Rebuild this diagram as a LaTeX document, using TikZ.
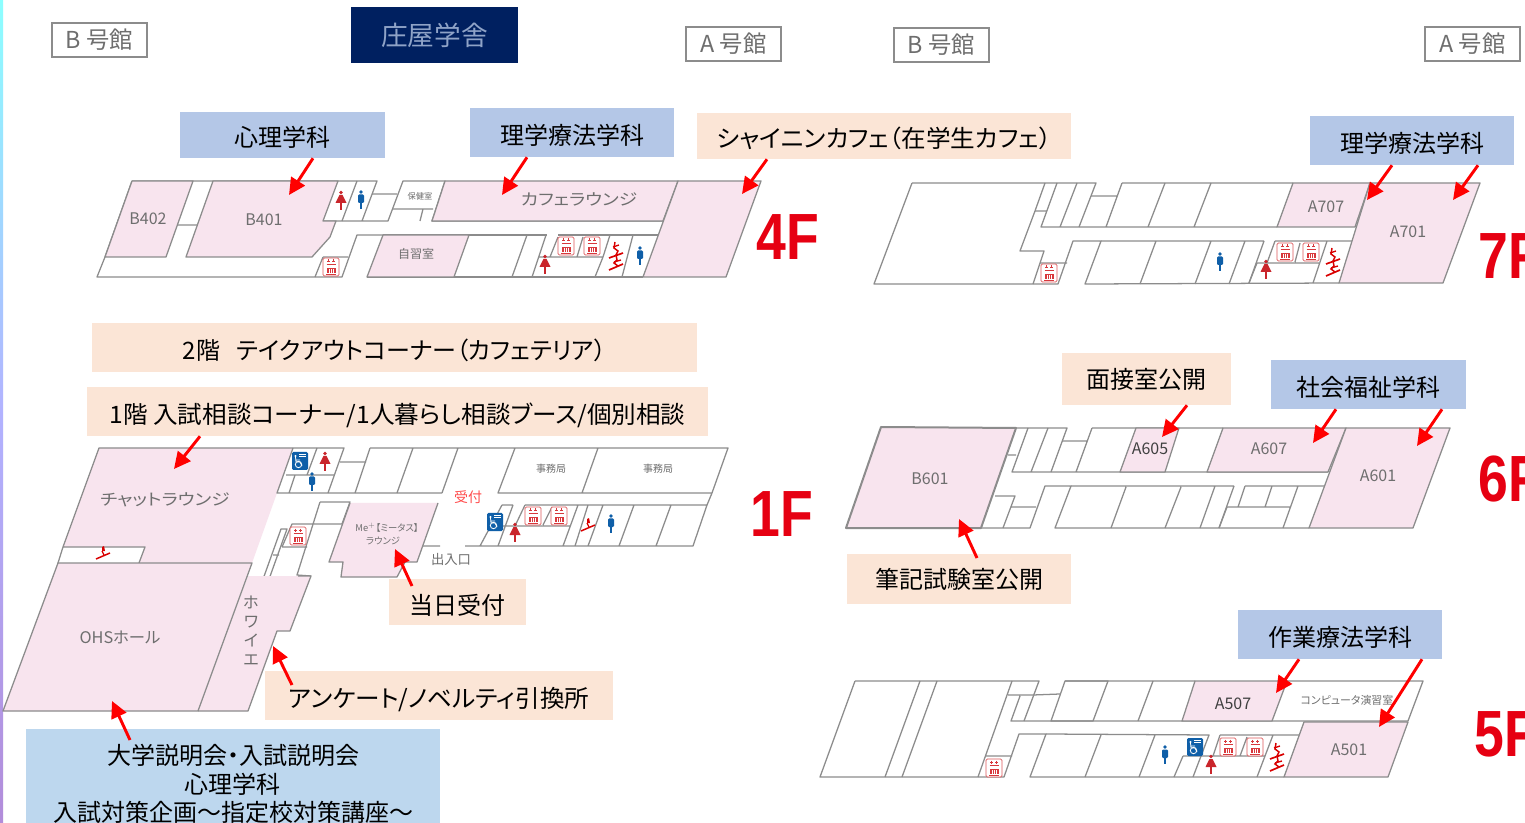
\documentclass[tikz,border=0pt]{standalone}
\usepackage{fontspec}
\usepackage{graphicx}
\setmainfont[RawFeature={+palt}]{Noto Sans CJK JP}
\newfontfamily\bigf[Scale=1]{Liberation Sans}
\usetikzlibrary{arrows.meta}
\definecolor{wall}{HTML}{8C8C8C}
\definecolor{pinkroom}{HTML}{F8E4EE}
\definecolor{roomtext}{HTML}{6E6E6E}
\definecolor{bluelab}{HTML}{B4C7E7}
\definecolor{skylab}{HTML}{BDD7EE}
\definecolor{peachlab}{HTML}{FBE5D6}
\definecolor{navy}{HTML}{002060}
\definecolor{navytext}{HTML}{8FA3C7}
\definecolor{bigred}{HTML}{E60012}
\definecolor{arrowred}{HTML}{FF0000}
\definecolor{iconred}{HTML}{C9252B}
\definecolor{iconblue}{HTML}{0F5FA8}
\definecolor{liftred}{HTML}{D8383C}
\tikzset{
  wl/.style={draw=wall,line width=.95pt,line join=round},
  pk/.style={fill=pinkroom,draw=wall,line width=.95pt,line join=round},
  lab/.style={inner sep=0pt,text=black,font=\fontsize{18}{20}\selectfont,minimum height=#1*.75pt,text height=18pt,text depth=0pt},
  labmid/.style={text height=13.6pt,text depth=0pt},
  bw/.style={minimum width=#1*.75pt},
  bluebox/.style={lab=#1,fill=bluelab},
  peachbox/.style={lab=#1,fill=peachlab},
  bldg/.style={inner sep=0pt,draw=wall,line width=.95pt,fill=white,text=roomtext,font=\fontsize{17.5}{20}\selectfont,minimum width=71.25pt,minimum height=25.5pt},
  rm/.style={inner sep=0pt,text=roomtext,font=\fontsize{12}{13}\selectfont},
  rmsmall/.style={inner sep=0pt,text=roomtext,font=\fontsize{6.2}{8}\selectfont},
  rmdark/.style={inner sep=0pt,text=black!75,font=\fontsize{12}{13}\selectfont},
  fl/.style={inner sep=0pt,text=bigred,font=\bigf\bfseries\fontsize{49}{50}\selectfont,anchor=west},
  arr/.style={draw=arrowred,line width=2.2pt,-{Triangle[length=12.5pt,width=12pt,fill=arrowred]}}
}
\newcommand{\kana}[1]{\scalebox{1.17}[1]{#1}}
\newcommand{\wid}[1]{\scalebox{1.025}[1]{#1}}
\newcommand{\flr}[1]{\scalebox{.82}[1]{#1}}
\newcommand{\iconman}[2]{\begin{scope}[shift={(#1,#2)}]
  \fill[iconblue] (0,-8) circle (1.9);
  \fill[iconblue,rounded corners=.8pt] (-3,-5.5) rectangle (3,3);
  \draw[iconblue,line width=.9pt] (0,3) -- (0,9);
\end{scope}}
\newcommand{\iconwoman}[2]{\begin{scope}[shift={(#1,#2)}]
  \fill[iconred] (0,-8.5) circle (1.9);
  \fill[iconred] (-1.6,-6) -- (1.6,-6) -- (5.5,2) -- (-5.5,2) -- cycle;
  \draw[iconred,line width=.9pt] (0,2) -- (0,9);
\end{scope}}
\newcommand{\iconlift}[2]{\begin{scope}[shift={(#1,#2)}]
  \draw[liftred!85,line width=.6pt,rounded corners=1pt,fill=white] (-8,-9) rectangle (8,9);
  \draw[liftred,line width=.55pt] (-4.5,-3) -- (4.5,-3) (-4,-6) -- (-1,-6) (1,-6) -- (4,-6) (-2.5,-7.5) -- (-2.5,-4.5) (2.5,-7.5) -- (2.5,-4.5);
  \fill[liftred] (-4.5,1) rectangle (4.5,6);
  \draw[white,line width=.3pt] (-2.2,2) -- (-2.2,6) (0,2) -- (0,6) (2.2,2) -- (2.2,6);
  \draw[liftred,line width=.5pt] (-5,7) -- (5,7);
\end{scope}}
\newcommand{\iconesc}[2]{\begin{scope}[shift={(#1,#2)}]
  \draw[arrowred!85!black,line width=1.25pt] (-7,14) -- (7,8) (-7,2) -- (7,-3);
  \draw[arrowred!85!black,line width=1.1pt] (-1,-14) -- (-2,-8) -- (2,-5) -- (0,-1) -- (1,4) -- (-2,7) -- (2,10);
  \draw[arrowred!85!black,line width=1pt] (-3,-9) -- (3,-11) (-2,6) -- (5,4);
\end{scope}}
\newcommand{\iconescs}[2]{\begin{scope}[shift={(#1,#2)}]
  \draw[arrowred!85!black,line width=1.1pt] (-7,6) -- (7,0);
  \fill[arrowred!85!black] (-1,-2) -- (-1,-6) -- (1,-7) -- (2,-2) -- cycle;
  \draw[arrowred!85!black,line width=.9pt] (-1,-2) -- (1,2);
\end{scope}}
\newcommand{\iconwheel}[2]{\begin{scope}[shift={(#1,#2)}]
  \fill[iconblue,rounded corners=1pt] (-8,-9) rectangle (8,9);
  \fill[white] (-4.5,-5) circle (1.1);
  \draw[white,line width=.6pt] (-4.5,-4) -- (-4,1) -- (0,1) -- (2,5) (-4.3,-1) -- (0,-1);
  \draw[white,line width=.6pt] (-1.5,3.5) circle (3.2);
  \draw[white,line width=.5pt] (-1,-6.5) -- (6,-6.5) (-1,-5) -- (6,-5);
\end{scope}}
\begin{document}
\begin{tikzpicture}[x=.75pt,y=-.75pt]
\path[use as bounding box] (0,0) rectangle (1525,823);
\clip (0,0) rectangle (1525,823);
\fill[white] (0,0) rectangle (1525,823);
\shade[top color=cyan!45,bottom color=blue!35!violet!45,middle color=blue!30] (0,0) rectangle (3,823);

%% ---- 4F ----
\draw[wl] (132,181) -- (105,257) -- (97,277) -- (342,277) -- (357,235) -- (383,235);
\draw[wl] (132,181) -- (377,181) -- (362,221) (323,221) -- (388,221) -- (403,181) -- (445,181) -- (432,221) -- (663,221);
\draw[wl] (178,225) -- (197,225) (357,181) -- (342,221) (372,194) -- (397,194) (392,209) -- (433,209) (423,209) -- (420,221);
\draw[wl] (323,257) -- (348,257) (323,257) -- (315,277);
\draw[wl] (383,235) -- (547,235) (558,235) -- (659,235) (367,277) -- (643,277);
\draw[wl] (527,235) -- (512,277) (546,235) -- (532,277) (538,257) -- (603,257) -- (595,277) (610,235) -- (603,257) (633,235) -- (622,277) (558,237) -- (550,257) (583,237) -- (577,257);
\filldraw[pk] (132,181) -- (193,181) -- (166,257) -- (105,257) -- cycle;
\filldraw[pk] (213,181) -- (338,181) -- (323,221) -- (336,221) -- (330,237) -- (312,257) -- (186,257) -- cycle;
\filldraw[pk] (445,181) -- (678,181) -- (663,221) -- (432,221) -- cycle;
\filldraw[pk] (383,235) -- (469,235) -- (454,277) -- (367,277) -- cycle;
\filldraw[pk] (678,181) -- (761,181) -- (726,277) -- (643,277) -- cycle;
\node[rm] (rB402) at (148,219) {B402};
\node[rm] (rB401) at (264,220) {B401};
\node[rmsmall] (rhoken) at (420,196) {保健室};
\node[rm,font=\fontsize{9}{11}\selectfont] (rjishu) at (416,254) {自習室};
\node[rm] (rcafe) at (579,199) {\kana{カフェラウンジ}};
\iconwoman{341}{201}\iconman{361}{200}\iconlift{331}{267}\iconwoman{545}{265}\iconlift{566}{246}\iconlift{592}{246}\iconesc{616}{256}\iconman{640}{256}
\node[fl] (f4) at (756,237) {\flr{4F}};

%% ---- 7F ----
\draw[wl] (912,183) -- (1096,183) -- (1079,227) (1122,183) -- (1293,183);
\draw[wl] (1045,183) -- (1035,211) -- (1020,251) -- (1044,251) -- (1033,284);
\draw[wl] (912,183) -- (874,284) -- (1058,284) -- (1073,241) -- (1101,241) -- (1085,284) -- (1339,283);
\draw[wl] (1035,211) -- (1046,211) (1057,183) -- (1041,227) -- (1277,227) (1077,183) -- (1060,227) (1091,196) -- (1117,196) (1122,183) -- (1106,227) (1165,183) -- (1148,227) (1211,183) -- (1194,227);
\draw[wl] (1040,263) -- (1067,263) (1101,241) -- (1264,241) (1156,241) -- (1140,284) (1211,241) -- (1195,284) (1245,241) -- (1229,284) (1264,241) -- (1249,283);
\draw[wl] (1275,241) -- (1357,241) (1275,241) -- (1267,263) (1300,243) -- (1295,262) (1327,241) -- (1313,283) (1257,263) -- (1320,263) (1257,263) -- (1249,283);
\filldraw[pk] (1293,183) -- (1370,183) -- (1355,227) -- (1277,227) -- cycle;
\filldraw[pk] (1370,183) -- (1480,183) -- (1443,283) -- (1339,283) -- cycle;
\node[rm] (rA707) at (1326,207) {A707};
\node[rm] (rA701) at (1408,232) {A701};
\iconlift{1049}{273}\iconman{1220}{262}\iconwoman{1266}{270}\iconlift{1285}{252}\iconlift{1311}{252}\iconesc{1333}{262}
\node[fl] (f7) at (1478,256) {\flr{7F}};

%% ---- 6F ----
\draw[wl] (1016,428) -- (1067,428) -- (1051,472) (1092,428) -- (1223,428) (981,528) -- (1030,528) -- (1045,486) -- (1071,486) -- (1055,528) -- (1309,528);
\draw[wl] (1008,455) -- (1016,455) (1028,428) -- (1012,472) -- (1328,472) (1048,428) -- (1031,472) (1062,441) -- (1087,441) (1092,428) -- (1076,472);
\draw[wl] (995,496) -- (1015,496) -- (1003,528) (1011,507) -- (1036,507) (1071,486) -- (1234,486) (1126,487) -- (1111,528) (1181,487) -- (1165,528) (1215,486) -- (1200,528) (1234,486) -- (1219,528);
\draw[wl] (1245,486) -- (1325,486) (1245,486) -- (1238,507) (1272,486) -- (1265,507) (1298,486) -- (1283,528) (1227,507) -- (1290,507) (1227,507) -- (1219,528);
\filldraw[pk,line width=1.5pt] (881,427) -- (1016,428) -- (981,528) -- (846,528) -- cycle;
\filldraw[pk] (1136,428) -- (1179,428) -- (1165,472) -- (1120,472) -- cycle;
\filldraw[pk] (1223,428) -- (1346,428) -- (1328,472) -- (1207,472) -- cycle;
\filldraw[pk] (1346,428) -- (1450,428) -- (1413,528) -- (1309,528) -- cycle;
\node[rm] (rB601) at (930,479) {B601};
\node[rmdark] (rA605) at (1150,449) {A605};
\node[rm] (rA607) at (1269,449) {A607};
\node[rm] (rA601) at (1378,476) {A601};
\node[fl] (f6) at (1478,479) {\flr{6F}};

%% ---- 5F ----
\draw[wl] (855,681) -- (1039,681) -- (1024,721) (1065,681) -- (1195,681) (855,681) -- (820,777) -- (1004,777) -- (1019,734) -- (1046,734) -- (1030,777) -- (1284,777);
\draw[wl] (920,681) -- (885,777) (937,681) -- (902,777) (1012,681) -- (978,777) (985,756) -- (1012,756) (1008,695) -- (1033,695) -- (1060,694) (1020,696) -- (1011,721) -- (1408,721);
\draw[wl] (1065,681) -- (1108,681) -- (1093,721) -- (1051,721) -- cycle (1153,681) -- (1138,721);
\draw[wl] (1287,681) -- (1423,681) -- (1408,721);
\draw[wl] (1046,734) -- (1209,735) -- (1193,777) (1101,735) -- (1085,777) (1155,735) -- (1139,777);
\draw[wl] (1220,735) -- (1300,735) (1220,735) -- (1213,756) (1247,737) -- (1240,756) (1273,735) -- (1257,777) (1183,756) -- (1265,756) (1183,756) -- (1174,777);
\filldraw[pk] (1195,681) -- (1287,681) -- (1272,721) -- (1182,721) -- cycle;
\filldraw[pk] (1304,722) -- (1408,722) -- (1388,777) -- (1284,777) -- cycle;
\node[rmdark] (rA507) at (1233,704) {A507};
\node[inner sep=0pt,text=roomtext,font=\fontsize{8.2}{9}\selectfont] (rcomp) at (1347,700) {コンピュータ演習室};
\node[rm] (rA501) at (1349,750) {A501};
\iconlift{994}{768}\iconman{1165}{755}\iconwheel{1195}{747}\iconwoman{1211}{765}\iconlift{1228}{747}\iconlift{1255}{747}\iconesc{1277}{757}
\node[fl] (f5) at (1474,734) {\flr{5F}};

%% ---- 1F ----
\fill[pinkroom] (99,448) -- (293,448) -- (277,493) -- (252,563) -- (139,563) -- (145,547) -- (63,547) -- cycle;
\draw[wl] (63,547) -- (99,448) -- (344,448) -- (328,493) (63,547) -- (145,547) -- (139,563);
\draw[wl] (293,448) -- (277,493) -- (442,493) (317,448) -- (307,475) (286,475) -- (334,475) (295,475) -- (289,493) (340,462) -- (366,462);
\draw[wl] (370,448) -- (355,493) (370,448) -- (728,448) -- (712,493) -- (498,493) -- (515,448) (413,448) -- (397,493) (458,448) -- (442,493) (598,448) -- (582,493) (712,493) -- (707,505);
\draw[wl] (502,505) -- (513,505) (525,505) -- (707,505) -- (693,546) -- (465,546) (502,505) -- (480,546) (513,505) -- (498,546) (525,505) -- (515,526) (552,507) -- (543,525) (503,526) -- (570,526) (578,505) -- (563,546) (588,505) -- (575,546) (603,505) -- (588,546) (634,505) -- (619,546) (671,505) -- (656,546);
\draw[wl,fill=white] (262,582) -- (268,582) -- (287,529) -- (281,529) -- cycle (273,555) -- (279,555);
\draw[wl] (282,547) -- (292,524) -- (343,524) (282,547) -- (307,547) (320,502) -- (297,575) -- (311,576) (320,502) -- (350,502) -- (342,524) (423,546) -- (440,546);
\fill[pinkroom] (350,503) -- (438,503) -- (417,562) -- (405,562) -- (397,577) -- (341,577) -- (343,562) -- (329,562) -- cycle;
\draw[wl] (350,503) -- (329,562) -- (343,562) -- (341,577) -- (397,577) -- (405,562) -- (417,562) -- (438,503);
\fill[pinkroom] (248,576) -- (311,576) -- (290,631) -- (277,631) -- (248,711) -- (198,711) -- cycle;
\draw[wl] (298,576) -- (311,576) -- (290,631) -- (277,631) -- (248,711) -- (198,711);
\filldraw[pk] (58,563) -- (252,563) -- (198,711) -- (3,711) -- cycle;
\draw[wl] (58,563) -- (63,547);
\node[rm] (rchat) at (165,500) {\kana{チャットラウンジ}};
\node[rm] (rohs) at (120,637) {\scalebox{1.02}[1]{OHSホール}};
\node[inner sep=0pt,text=roomtext,font=\fontsize{12}{14.3}\selectfont,align=center] (rfoyer) at (251,631) {ホ\\ワ\\イ\\エ};
\node[inner sep=0pt,text=roomtext,font=\fontsize{7.5}{9}\selectfont] (rjim1) at (551,469) {事務局};
\node[inner sep=0pt,text=roomtext,font=\fontsize{7.5}{9}\selectfont] (rjim2) at (658,469) {事務局};
\node[inner sep=0pt,text=red!70!white,font=\fontsize{10.5}{12}\selectfont] (ruke) at (468,497) {受付};
\node[inner sep=0pt,text=roomtext,font=\fontsize{10}{12}\selectfont] (rexit) at (451,559) {出入口};
\node[inner sep=0pt,text=roomtext,font=\fontsize{7}{8}\selectfont] (rmeet) at (387,528) {Me$^{\scriptscriptstyle +}$【ミータス】};
\node[inner sep=0pt,text=roomtext,font=\fontsize{7}{8}\selectfont] (rmeet2) at (383,541) {ラウンジ};
\iconwheel{300}{461}\iconwoman{325}{462}\iconman{312}{482}\iconescs{103}{553}\iconlift{298}{536}
\iconwheel{495}{522}\iconwoman{515}{533}\iconlift{533}{516}\iconlift{559}{516}\iconescs{588}{525}\iconman{611}{524}
\node[fl] (f1) at (750,514) {\flr{1F}};

%% ---- building tags ----
\node[bldg] (tb1) at (99.5,40) {B 号館};
\node[inner sep=0pt,fill=navy,text=navytext,font=\fontsize{20}{22}\selectfont,bw=167,minimum height=42pt] (tsh) at (434.5,35) {庄屋学舎};
\node[bldg] (ta1) at (733.5,44) {A 号館};
\node[bldg] (tb2) at (941.5,45) {B 号館};
\node[bldg] (ta2) at (1472.5,44) {A 号館};

%% ---- labels ----
\node[bluebox=46,bw=205] (l1) at (282.5,135) {心理学科};
\node[bluebox=49,bw=204] (l2) at (572,132.5) {理学療法学科};
\node[peachbox=46,bw=374] (l3) at (884,136) {\wid{シャイニンカフェ（在学生カフェ）}};
\node[bluebox=49,bw=204] (l4) at (1412,140.5) {理学療法学科};
\node[peachbox=49,bw=605] (l5) at (394.5,347.5) {2階\hspace{.7em}テイクアウトコーナー（カフェテリア）};
\node[peachbox=49,bw=621] (l6) at (397.5,411.5) {\wid{1階 入試相談コーナー/1人暮らし相談ブース/個別相談}};
\node[peachbox=52,bw=169,labmid] (l7) at (1146.5,379) {面接室公開};
\node[bluebox=49,bw=195] (l8) at (1368.5,384.5) {社会福祉学科};
\node[peachbox=50,bw=224,labmid] (l9) at (959,579) {筆記試験室公開};
\node[bluebox=49,bw=204] (l10) at (1340,634.5) {作業療法学科};
\node[peachbox=46,bw=137] (l11) at (457.5,602) {当日受付};
\node[peachbox=49,bw=348] (l12) at (439,695.5) {\wid{アンケート/ノベルティ引換所}};
\node[inner sep=0pt,fill=skylab,bw=414,minimum height=93pt] (l13) at (233,791) {};
\node[inner sep=0pt,text=black,font=\fontsize{18}{21.6}\selectfont,align=center] (l13t) at (233,784) {大学説明会・入試説明会\\心理学科\\入試対策企画～指定校対策講座～};

%% ---- arrows ----
\coordinate (t1) at (289,195); \coordinate (t2) at (502,195); \coordinate (t3) at (742,194);
\coordinate (t4) at (1367,200); \coordinate (t5) at (1453,200); \coordinate (t6) at (174,469);
\coordinate (t7) at (395,549); \coordinate (t8) at (273,646); \coordinate (t9) at (112,701);
\coordinate (t10) at (1162,437); \coordinate (t11) at (1313,443); \coordinate (t12) at (1417,446);
\coordinate (t13) at (959,519); \coordinate (t14) at (1276,693); \coordinate (t15) at (1379,727);
\draw[arr] (313,0 |- l1.south) -- (t1);
\draw[arr] (527,0 |- l2.south) -- (t2);
\draw[arr] (767,0 |- l3.south) -- (t3);
\draw[arr] (1392,0 |- l4.south) -- (t4);
\draw[arr] (1478,0 |- l4.south) -- (t5);
\draw[arr] (200,0 |- l6.south) -- (t6);
\draw[arr] (412,586) -- (t7);
\draw[arr] (292,685) -- (t8);
\draw[arr] (130,740) -- (t9);
\draw[arr] (1187,0 |- l7.south) -- (t10);
\draw[arr] (1336,0 |- l8.south) -- (t11);
\draw[arr] (1442,0 |- l8.south) -- (t12);
\draw[arr] (977,558) -- (t13);
\draw[arr] (1299,0 |- l10.south) -- (t14);
\draw[arr] (1422,0 |- l10.south) -- (t15);
\end{tikzpicture}
\end{document}
